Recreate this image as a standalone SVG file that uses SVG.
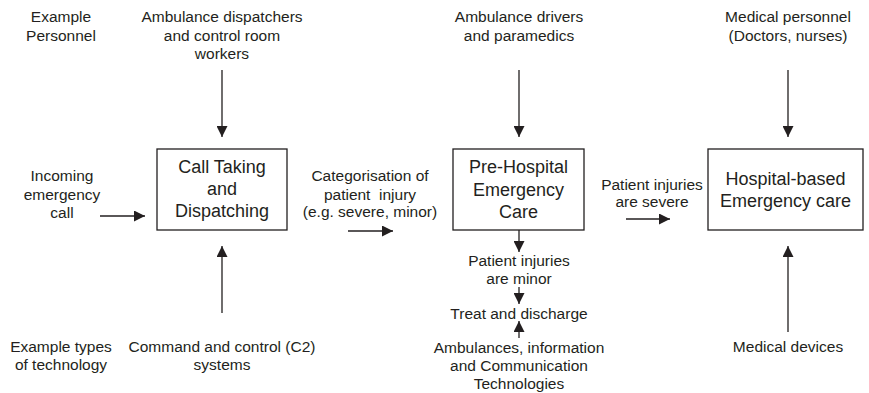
<svg xmlns="http://www.w3.org/2000/svg" width="869" height="393" viewBox="0 0 869 393">
<defs>
<marker id="ah" markerUnits="userSpaceOnUse" markerWidth="11" markerHeight="11" refX="11" refY="5.5" orient="auto">
<path d="M0,0 L11,5.5 L0,11 z" fill="#231f20"/>
</marker>
<style>
text{font-family:"Liberation Sans",Arial,sans-serif;fill:#231f20;text-anchor:middle}
.lbl{font-size:15.5px}
.box{font-size:18px}
rect{fill:#fff;stroke:#231f20;stroke-width:1.3}
line{stroke:#231f20;stroke-width:1.3;marker-end:url(#ah)}
</style>
</defs>
<rect width="869" height="393" style="stroke:none"/>
<g id="connectors">
<line x1="222" y1="70" x2="222" y2="137"/>
<line x1="519" y1="70" x2="519" y2="137"/>
<line x1="788" y1="70" x2="788" y2="137"/>
<line x1="222" y1="313" x2="222" y2="246"/>
<line x1="788" y1="332" x2="788" y2="246"/>
<line x1="100" y1="216" x2="145" y2="216"/>
<line x1="348" y1="231" x2="393" y2="231"/>
<line x1="626" y1="219" x2="670" y2="219"/>
<line x1="519" y1="230" x2="519" y2="252"/>
<line x1="519" y1="287" x2="519" y2="304"/>
<line x1="519" y1="338" x2="519" y2="321"/>
</g>
<g id="call-taking">
<rect x="157" y="149" width="130" height="81"/>
<text class="box" x="222" y="173">Call Taking</text>
<text class="box" x="222" y="195">and</text>
<text class="box" x="222" y="217">Dispatching</text>
</g>
<g id="pre-hospital">
<rect x="453" y="149" width="131" height="81"/>
<text class="box" x="518.5" y="173">Pre-Hospital</text>
<text class="box" x="518.5" y="196">Emergency</text>
<text class="box" x="518.5" y="218">Care</text>
</g>
<g id="hospital">
<rect x="708" y="149" width="155" height="81"/>
<text class="box" x="785.5" y="185">Hospital-based</text>
<text class="box" x="785.5" y="207">Emergency care</text>
</g>
<g id="labels" class="lbl">
<text class="lbl" x="61" y="22">Example</text>
<text class="lbl" x="61" y="40.5">Personnel</text>
<text class="lbl" x="222" y="22">Ambulance dispatchers</text>
<text class="lbl" x="222" y="40.5">and control room</text>
<text class="lbl" x="222" y="59">workers</text>
<text class="lbl" x="519" y="22">Ambulance drivers</text>
<text class="lbl" x="519" y="40.5">and paramedics</text>
<text class="lbl" x="788" y="22">Medical personnel</text>
<text class="lbl" x="788" y="40.5">(Doctors, nurses)</text>
<text class="lbl" x="62" y="181">Incoming</text>
<text class="lbl" x="62" y="199.5">emergency</text>
<text class="lbl" x="62" y="218">call</text>
<text class="lbl" x="370" y="181">Categorisation of</text>
<text class="lbl" x="370" y="199.5" xml:space="preserve">patient  injury</text>
<text class="lbl" x="370" y="217">(e.g. severe, minor)</text>
<text class="lbl" x="652" y="190">Patient injuries</text>
<text class="lbl" x="652" y="207">are severe</text>
<text class="lbl" x="519" y="266">Patient injuries</text>
<text class="lbl" x="519" y="284">are minor</text>
<text class="lbl" x="519" y="319">Treat and discharge</text>
<text class="lbl" x="519" y="352.5">Ambulances, information</text>
<text class="lbl" x="519" y="370.5">and Communication</text>
<text class="lbl" x="519" y="388.5">Technologies</text>
<text class="lbl" x="61" y="352">Example types</text>
<text class="lbl" x="61" y="370">of technology</text>
<text class="lbl" x="222" y="352">Command and control (C2)</text>
<text class="lbl" x="222" y="370">systems</text>
<text class="lbl" x="788" y="352">Medical devices</text>
</g>
</svg>
